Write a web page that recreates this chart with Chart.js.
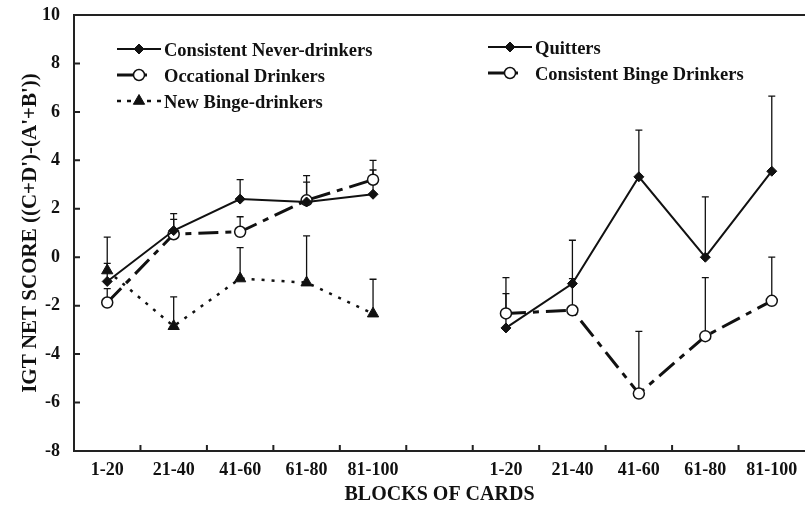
<!DOCTYPE html>
<html>
<head>
<meta charset="utf-8">
<script src="https://cdn.jsdelivr.net/npm/chart.js@4"></script>
<style>
  html, body { margin: 0; padding: 0; background: #fff; }
  canvas { display: block; }
</style>
</head>
<body>
<canvas id="igt_chart" width="805" height="508"></canvas>
<script>
// block labels, one panel each side, blank slot between panels
var blocks = ['1-20', '21-40', '41-60', '61-80', '81-100'];
var xLabels = blocks.concat([''], blocks);
var yTicks = [-8, -6, -4, -2, 0, 2, 4, 6, 8, 10];

// left panel
var neverDrinkers = [-1.0, 1.1, 2.4, 2.28, 2.6];
var neverErr = [0.75, 0.7, 0.8, 0.82, 1.0];
var occasional = [-1.87, 0.95, 1.05, 2.35, 3.2];
var occasionalErr = [0.57, 0.61, 0.62, 1.02, 0.8];
var newBinge = [-0.55, -2.85, -0.88, -1.05, -2.33];
var newBingeErr = [1.38, 1.21, 1.28, 1.93, 1.42];

// right panel
var quitters = [-2.92, -1.09, 3.32, 0.0, 3.55];
var quittersErr = [1.42, 1.79, 1.93, 2.49, 3.1];
var bingeDrinkers = [-2.32, -2.19, -5.63, -3.26, -1.8];
var bingeErr = [1.48, 1.31, 2.57, 2.42, 1.8];

var ink = '#111';
var serif = "'Liberation Serif', 'Times New Roman', serif";
var blanks = [null, null, null, null, null, null];

function leftSide(arr) { return arr.concat(blanks); }
function rightSide(arr) { return blanks.concat(arr); }

var dashLong = [20, 7, 6, 7];
var dots = [3, 7];

var datasets = [
  {
    label: 'Consistent Never-drinkers', data: leftSide(neverDrinkers), err: leftSide(neverErr),
    borderColor: ink, borderWidth: 2, borderDash: [],
    pointStyle: 'rectRot', pointRadius: 5, pointBackgroundColor: ink, pointBorderColor: ink, pointBorderWidth: 1
  },
  {
    label: 'Occational Drinkers', data: leftSide(occasional), err: leftSide(occasionalErr),
    borderColor: ink, borderWidth: 3, borderDash: dashLong,
    pointStyle: 'circle', pointRadius: 5.5, pointBackgroundColor: '#fff', pointBorderColor: ink, pointBorderWidth: 1.5
  },
  {
    label: 'New Binge-drinkers', data: leftSide(newBinge), err: leftSide(newBingeErr),
    borderColor: ink, borderWidth: 2.5, borderDash: dots,
    pointStyle: 'triangle', pointRadius: 6.5, pointBackgroundColor: ink, pointBorderColor: ink, pointBorderWidth: 1
  },
  {
    label: 'Quitters', data: rightSide(quitters), err: rightSide(quittersErr),
    borderColor: ink, borderWidth: 2, borderDash: [],
    pointStyle: 'rectRot', pointRadius: 5, pointBackgroundColor: ink, pointBorderColor: ink, pointBorderWidth: 1
  },
  {
    label: 'Consistent Binge Drinkers', data: rightSide(bingeDrinkers), err: rightSide(bingeErr),
    borderColor: ink, borderWidth: 3, borderDash: dashLong,
    pointStyle: 'circle', pointRadius: 5.5, pointBackgroundColor: '#fff', pointBorderColor: ink, pointBorderWidth: 1.5
  }
];
datasets.forEach(function (d) { d.fill = false; d.tension = 0; d.spanGaps = false; });

// one sided error bars, drawn under the lines
var errorBars = {
  id: 'errorBars',
  beforeDatasetsDraw: function (chart) {
    var ctx = chart.ctx, xs = chart.scales.x, ys = chart.scales.y;
    ctx.save();
    ctx.strokeStyle = ink;
    ctx.lineWidth = 1.3;
    chart.data.datasets.forEach(function (ds) {
      ds.data.forEach(function (v, i) {
        if (v === null) return;
        var x = xs.getPixelForValue(i);
        var y0 = ys.getPixelForValue(v);
        var y1 = ys.getPixelForValue(v + ds.err[i]);
        ctx.beginPath();
        ctx.moveTo(x, y0); ctx.lineTo(x, y1);
        ctx.moveTo(x - 3.5, y1); ctx.lineTo(x + 3.5, y1);
        ctx.stroke();
      });
    });
    ctx.restore();
  }
};

// inward ticks and the top frame line
var frame = {
  id: 'frame',
  afterDraw: function (chart) {
    var ctx = chart.ctx, a = chart.chartArea, xs = chart.scales.x, ys = chart.scales.y;
    ctx.save();
    ctx.strokeStyle = '#222';
    ctx.lineWidth = 2;
    ctx.beginPath();
    ctx.moveTo(a.left - 1, a.top); ctx.lineTo(a.right, a.top);
    ys.ticks.forEach(function (t) {
      var y = ys.getPixelForValue(t.value);
      ctx.moveTo(a.left, y); ctx.lineTo(a.left + 6, y);
    });
    for (var i = 0; i < xLabels.length - 1; i++) {
      var x = (xs.getPixelForValue(i) + xs.getPixelForValue(i + 1)) / 2;
      ctx.moveTo(x, a.bottom); ctx.lineTo(x, a.bottom - 6);
    }
    ctx.stroke();
    ctx.restore();
  }
};

function drawMarker(ctx, ds, x, y) {
  var r = ds.pointRadius;
  ctx.beginPath();
  if (ds.pointStyle === 'rectRot') {
    ctx.moveTo(x, y - r); ctx.lineTo(x + r, y); ctx.lineTo(x, y + r); ctx.lineTo(x - r, y);
  } else if (ds.pointStyle === 'triangle') {
    ctx.moveTo(x, y - r); ctx.lineTo(x + r * 0.87, y + r * 0.5); ctx.lineTo(x - r * 0.87, y + r * 0.5);
  } else {
    ctx.arc(x, y, r, 0, Math.PI * 2);
  }
  ctx.closePath();
  ctx.fillStyle = ds.pointBackgroundColor;
  ctx.fill();
  ctx.lineWidth = ds.pointBorderWidth;
  ctx.setLineDash([]);
  ctx.strokeStyle = ds.pointBorderColor;
  ctx.stroke();
}

// two legend blocks, one per panel
var legendBlocks = [
  { items: [0, 1, 2], x: 117, y: 49 },
  { items: [3, 4], x: 488, y: 47 }
];
var panelLegend = {
  id: 'panelLegend',
  afterDraw: function (chart) {
    var ctx = chart.ctx;
    ctx.save();
    ctx.font = 'bold 18.5px ' + serif;
    ctx.textBaseline = 'middle';
    legendBlocks.forEach(function (b) {
      b.items.forEach(function (idx, row) {
        var ds = chart.data.datasets[idx];
        var y = b.y + row * 26;
        ctx.strokeStyle = ink;
        ctx.lineWidth = ds.borderWidth;
        ctx.setLineDash(ds.borderDash.length ? (ds.borderDash === dots ? [4, 6] : [18, 6, 6, 20]) : []);
        ctx.beginPath();
        ctx.moveTo(b.x, y); ctx.lineTo(b.x + 44, y);
        ctx.stroke();
        drawMarker(ctx, ds, b.x + 22, y);
        ctx.fillStyle = ink;
        ctx.fillText(ds.label, b.x + 47, y + 2);
      });
    });
    ctx.restore();
  }
};

var ctx = document.getElementById('igt_chart').getContext('2d');
var myChart = new Chart(ctx, {
  type: 'line',
  data: { labels: xLabels, datasets: datasets },
  options: {
    responsive: false,
    animation: false,
    layout: { autoPadding: false, padding: { top: 15, right: 0, left: 0, bottom: 0 } },
    plugins: {
      legend: { display: false },
      tooltip: { enabled: false }
    },
    scales: {
      x: {
        type: 'category',
        offset: true,
        grid: { display: false, offset: true, drawTicks: true, tickLength: 9 },
        border: { display: true, color: '#222', width: 2 },
        ticks: { color: ink, padding: 0, maxRotation: 0, autoSkip: false, font: { family: serif, size: 18, weight: 'bold' } },
        title: {
          display: true, text: 'BLOCKS OF CARDS', color: ink,
          font: { family: serif, size: 20, weight: 'bold' }, padding: { top: 0, bottom: 1 }
        },
        afterFit: function (s) { s.height = 57; s.paddingLeft = 0; s.paddingRight = 0; }
      },
      y: {
        min: -8,
        max: 10,
        afterBuildTicks: function (s) { s.ticks = yTicks.map(function (v) { return { value: v }; }); },
        grid: { display: false, drawTicks: false },
        border: { display: true, color: '#222', width: 2 },
        ticks: { color: ink, padding: 14, font: { family: serif, size: 18, weight: 'bold' } },
        title: {
          display: true, text: "IGT NET SCORE ((C+D')-(A'+B'))", color: ink,
          font: { family: serif, size: 21, weight: 'bold' }, padding: { top: 18, bottom: 0 }
        },
        afterFit: function (s) { s.width = 74; s.paddingTop = 0; s.paddingBottom = 0; }
      }
    }
  },
  plugins: [errorBars, frame, panelLegend]
});
</script>
</body>
</html>
